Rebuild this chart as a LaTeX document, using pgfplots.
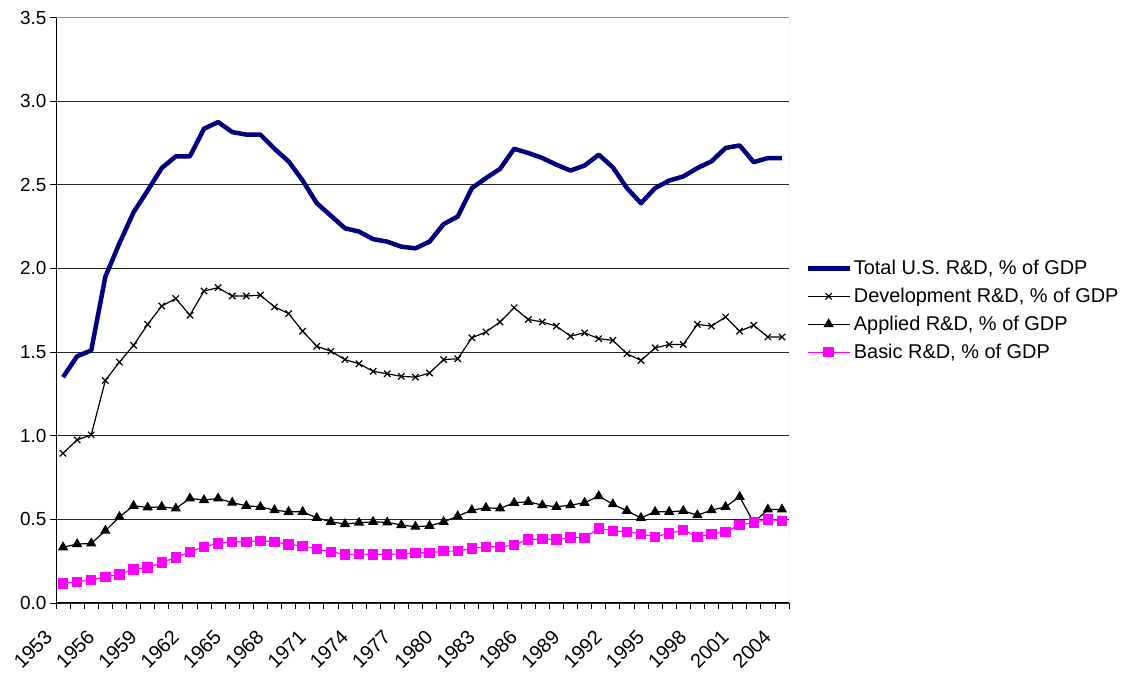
\documentclass[border=0pt]{standalone}
\usepackage{fontspec}
\setmainfont{Liberation Sans}
\usepackage{pgfplots}
\pgfplotsset{compat=1.18}
\definecolor{navyline}{RGB}{0,0,128}
\definecolor{magentaline}{RGB}{255,0,255}
\pgfplotstableread{
idx total dev applied basic
0 1.350 0.895 0.333 0.117
1 1.475 0.975 0.352 0.127
2 1.510 1.005 0.356 0.137
3 1.950 1.330 0.432 0.157
4 2.150 1.440 0.515 0.171
5 2.335 1.540 0.581 0.201
6 2.465 1.665 0.571 0.211
7 2.600 1.775 0.575 0.241
8 2.670 1.820 0.565 0.273
9 2.670 1.720 0.625 0.306
10 2.835 1.865 0.615 0.336
11 2.875 1.885 0.625 0.356
12 2.815 1.835 0.600 0.366
13 2.800 1.835 0.581 0.366
14 2.800 1.840 0.575 0.372
15 2.715 1.770 0.555 0.366
16 2.640 1.730 0.545 0.350
17 2.525 1.625 0.545 0.342
18 2.390 1.535 0.509 0.322
19 2.315 1.505 0.485 0.306
20 2.240 1.455 0.472 0.291
21 2.220 1.430 0.480 0.293
22 2.175 1.385 0.485 0.291
23 2.160 1.370 0.482 0.291
24 2.130 1.355 0.466 0.293
25 2.120 1.350 0.456 0.300
26 2.160 1.375 0.461 0.300
27 2.265 1.455 0.485 0.310
28 2.310 1.460 0.519 0.310
29 2.480 1.585 0.555 0.326
30 2.540 1.620 0.569 0.336
31 2.595 1.680 0.565 0.336
32 2.715 1.765 0.599 0.346
33 2.690 1.695 0.605 0.380
34 2.660 1.680 0.585 0.382
35 2.620 1.655 0.575 0.380
36 2.585 1.595 0.585 0.392
37 2.615 1.615 0.599 0.390
38 2.680 1.580 0.639 0.446
39 2.605 1.570 0.591 0.432
40 2.480 1.490 0.551 0.426
41 2.390 1.450 0.509 0.412
42 2.480 1.525 0.545 0.396
43 2.525 1.545 0.545 0.416
44 2.550 1.545 0.551 0.436
45 2.600 1.665 0.525 0.396
46 2.640 1.655 0.555 0.412
47 2.720 1.710 0.575 0.426
48 2.735 1.625 0.635 0.466
49 2.635 1.660 0.480 0.480
50 2.660 1.590 0.559 0.500
51 2.660 1.590 0.559 0.491
}\rdtable
\begin{document}
\begin{tikzpicture}[x=1bp,y=1bp]
\path[use as bounding box] (0,0) rectangle (1127,673);
\begin{axis}[
  at={(56bp,70bp)}, anchor=south west,
  scale only axis, width=733bp, height=585.5bp,
  xmin=-0.5, xmax=51.5, ymin=0, ymax=3.5,
  axis x line*=bottom, axis y line*=left,
  axis line style={black, line width=1bp},
  tick align=outside, major tick length=6bp,
  tick style={black, line width=0.8bp},
  ytick={0,0.5,1,1.5,2,2.5,3,3.5},
  ymajorgrids, grid style={black!85, line width=0.7bp},
  /pgf/number format/assume math mode=true,
  yticklabel style={/pgf/number format/fixed, /pgf/number format/fixed zerofill, /pgf/number format/precision=1},
  ticklabel style={font=\fontsize{19}{22}\selectfont},
  xtick={-0.5,0.5,...,51.5}, xticklabels={,,},
  extra x ticks={0,3,...,51},
  extra x tick labels={1953,1956,1959,1962,1965,1968,1971,1974,1977,1980,1983,1986,1989,1992,1995,1998,2001,2004},
  extra x tick style={tick style={draw=none}, xticklabel style={xshift=-12bp, yshift=-22bp, rotate=45, anchor=east, font=\fontsize{20}{22}\selectfont}},
  legend style={at={(1.018,0.5)}, anchor=west, draw=none, fill=none,
    font=\fontsize{20}{24}\selectfont, row sep=8bp},
  legend cell align=left,
  legend image code/.code={\draw[mark repeat=2,mark phase=2,#1] plot coordinates {(0bp,0bp) (21bp,0bp) (42bp,0bp)};},
]
\addplot[navyline, line width=4.5bp, line join=round, no marks] table[x=idx, y=total] {\rdtable};
\addlegendentry{Total U.S. R\&D, \% of GDP}
\addplot[black, line width=1.2bp, mark=x, mark size=4.5bp, mark options={line width=1.2bp}] table[x=idx, y=dev] {\rdtable};
\addlegendentry{Development R\&D, \% of GDP}
\addplot[black, line width=1.2bp, mark=triangle*, mark size=4.8bp, mark options={fill=black}] table[x=idx, y=applied] {\rdtable};
\addlegendentry{Applied R\&D, \% of GDP}
\addplot[magentaline, line width=1.2bp, mark=square*, mark size=4.6bp, mark options={fill=magentaline}] table[x=idx, y=basic] {\rdtable};
\addlegendentry{Basic R\&D, \% of GDP}
\draw[black!45, line width=1bp] (rel axis cs:0,1) -- (rel axis cs:1,1) -- (rel axis cs:1,0);
\end{axis}
\end{tikzpicture}
\end{document}
